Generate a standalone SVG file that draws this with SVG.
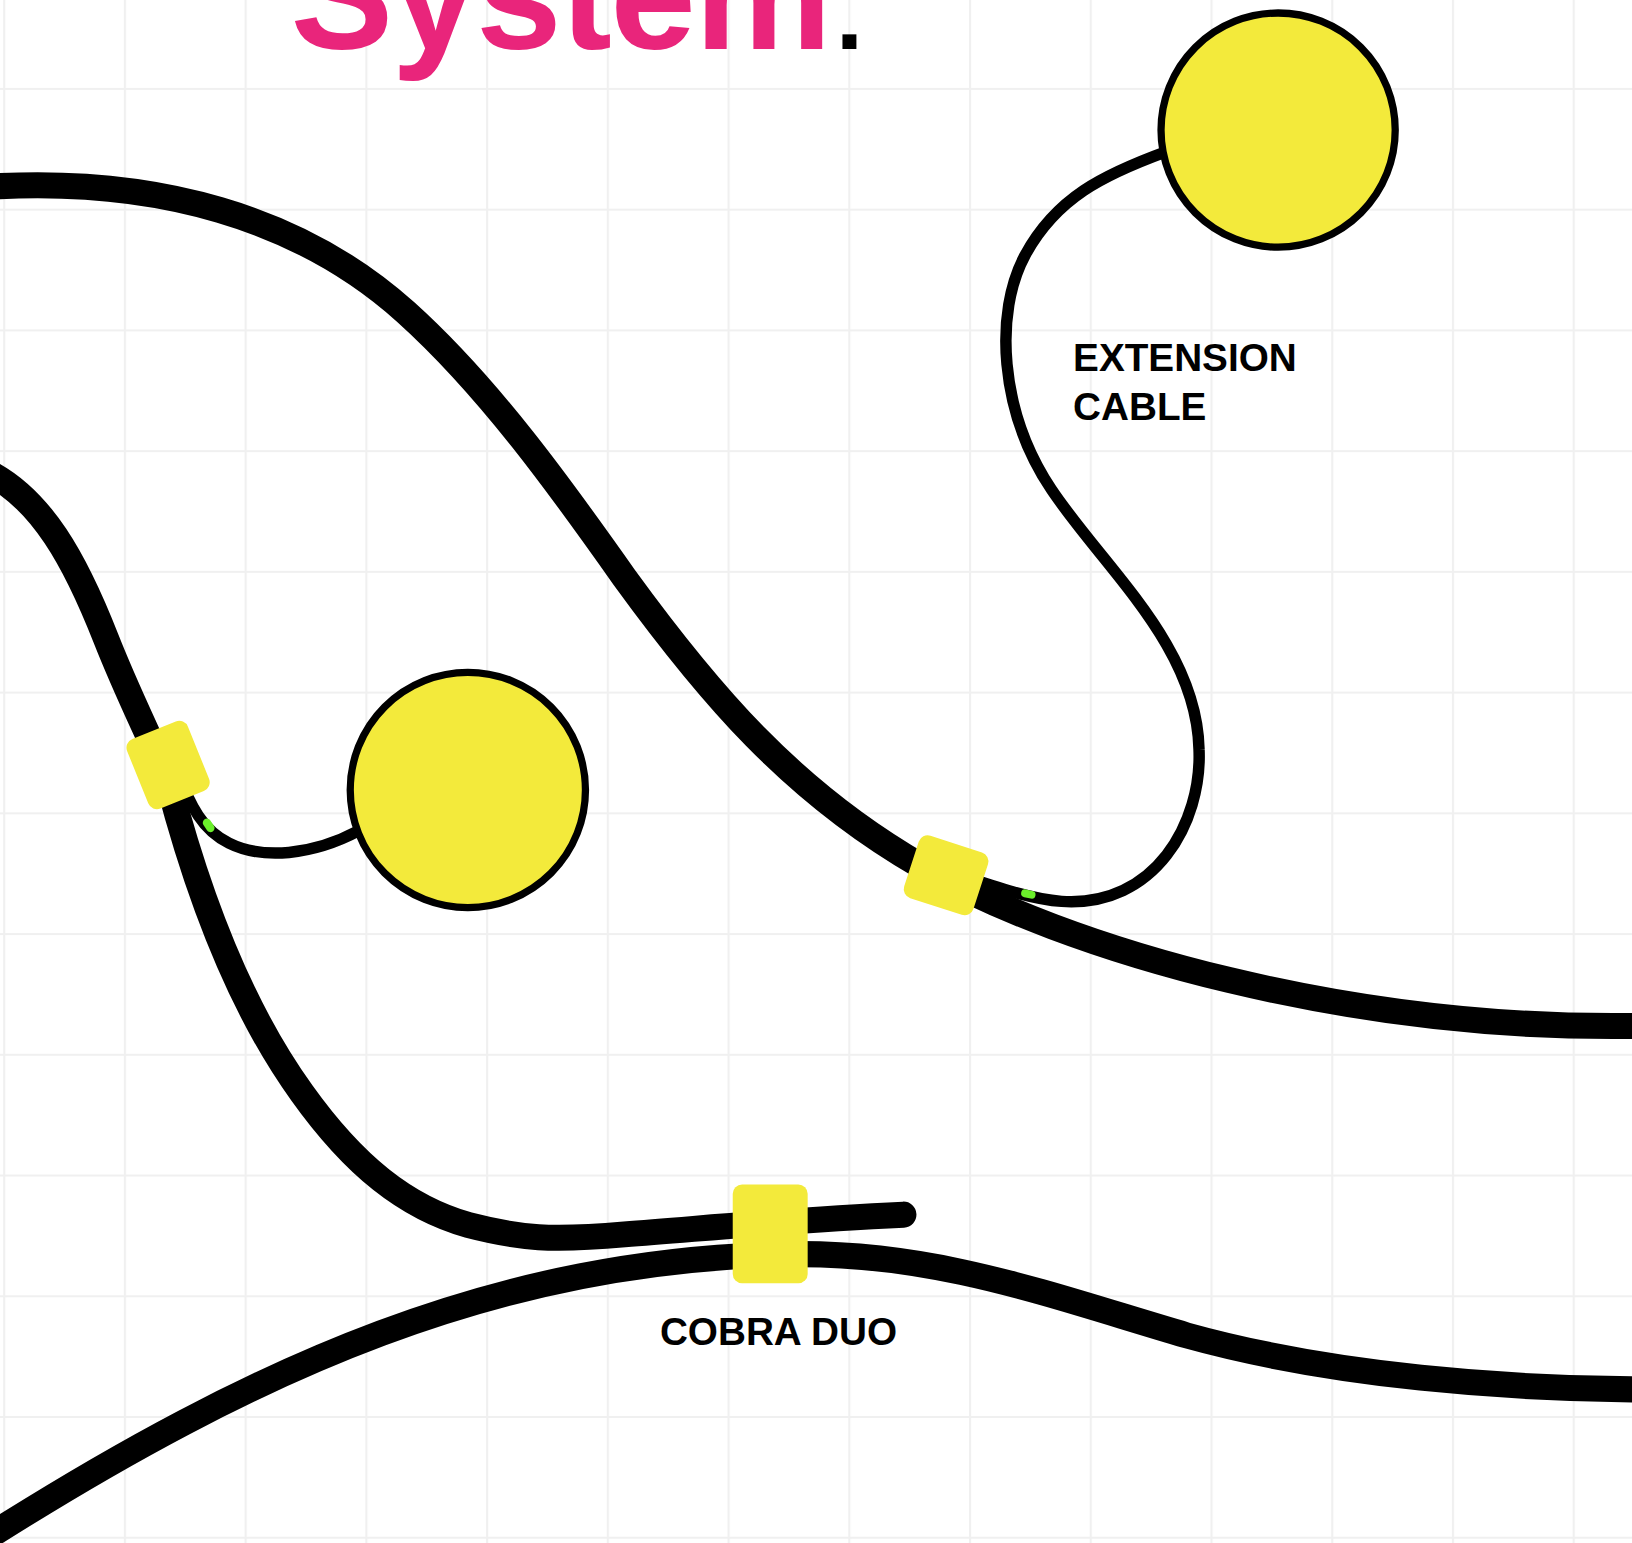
<svg xmlns="http://www.w3.org/2000/svg" width="1632" height="1543" viewBox="0 0 1632 1543">
  <style>
    .cable { fill: none; stroke: #000; stroke-width: 25; stroke-linecap: round; stroke-linejoin: round; }
    .thin { fill: none; stroke: #000; stroke-width: 11; stroke-linecap: round; }
    .puck { fill: #f3ea3b; stroke: #000; stroke-width: 7; }
    .conn { fill: #f3ea3b; }
    .led { fill: #6bef2b; }
    .label { font-family: "Liberation Sans", Arial, Helvetica, sans-serif; font-weight: 700; font-size: 37.2px; fill: #000; }
    .title { font-family: "Liberation Sans", Arial, Helvetica, sans-serif; font-weight: 700; fill: #e9257b; }
  </style>
  <defs>
    <pattern id="grid" patternUnits="userSpaceOnUse" x="3" y="84.5" width="116" height="116">
      <rect width="116" height="116" fill="#fff"/>
      <path d="M1 0V116M0 1H116" stroke="#f0f0f0" stroke-width="2" fill="none"/>
    </pattern>
  </defs>
  <rect width="1632" height="1543" fill="#fff"/>
  <g transform="scale(1.040816)">
    <rect width="1568" height="1483" fill="url(#grid)"/>

    <g id="title">
      <text class="title" x="279" y="47" font-size="148" letter-spacing="-1.3">System<tspan x="803" font-size="95" fill="#000">.</tspan></text>
    </g>

    <g id="connectors">
      <path id="cable-a" class="cable" d="M -20 180 C 150 168, 290 210, 390 300 C 470 372, 540 470, 600 555 C 680 665, 760 760, 885 832 C 1020 910, 1300 995, 1600 985"/>
      <path id="cable-b" class="cable" d="M -15 452 C 40 478, 73 540, 102 614 C 124 670, 148 716, 162 752 C 185 840, 225 960, 290 1050 C 340 1120, 390 1160, 450 1177 C 500 1190, 530 1192, 600 1186 C 680 1180, 760 1172, 868 1167"/>
      <path id="cable-c" class="cable" d="M -20 1482 C 250 1310, 480 1210, 760 1205 C 900 1203, 1010 1245, 1140 1283 C 1280 1322, 1450 1335, 1590 1335"/>
      <path id="extension-cable" class="thin" d="M 920 840 C 950 850, 990 864, 1020 866 C 1110 872, 1155 790, 1152 720 C 1150 620, 1060 545, 1010 470 C 960 395, 955 300, 985 245 C 1015 190, 1060 168, 1120 146"/>
      <path id="puck-cable" class="thin" d="M 170 740 C 183 775, 195 798, 220 810 C 252 826, 300 822, 345 798"/>
    </g>

    <g id="puck-top">
      <circle class="puck" cx="1228" cy="125" r="112.5"/>
    </g>
    <g id="puck-middle">
      <circle class="puck" cx="449.5" cy="759" r="113"/>
    </g>

    <g id="connector-left">
      <rect class="conn" x="-31.5" y="-36" width="63" height="72" rx="9" transform="translate(161.5 735) rotate(-22)"/>
    </g>
    <g id="connector-middle">
      <rect class="conn" x="-35" y="-31.5" width="70" height="63" rx="9" transform="translate(909 841) rotate(18)"/>
    </g>
    <g id="cobra-duo">
      <rect class="conn" x="704" y="1138" width="72" height="95" rx="9"/>
    </g>

    <g id="leds">
      <rect class="led" x="-7" y="-4" width="14" height="8" rx="4" transform="translate(200.5 793) rotate(56)"/>
      <rect class="led" x="-7" y="-3.8" width="14" height="7.6" rx="3.8" transform="translate(988 859) rotate(12)"/>
    </g>

    <g id="label-extension">
      <text class="label" x="1031" y="356.5">EXTENSION</text>
      <text class="label" x="1031" y="403.5">CABLE</text>
    </g>
    <g id="label-cobra">
      <text class="label" x="634" y="1292">COBRA DUO</text>
    </g>
  </g>
</svg>
